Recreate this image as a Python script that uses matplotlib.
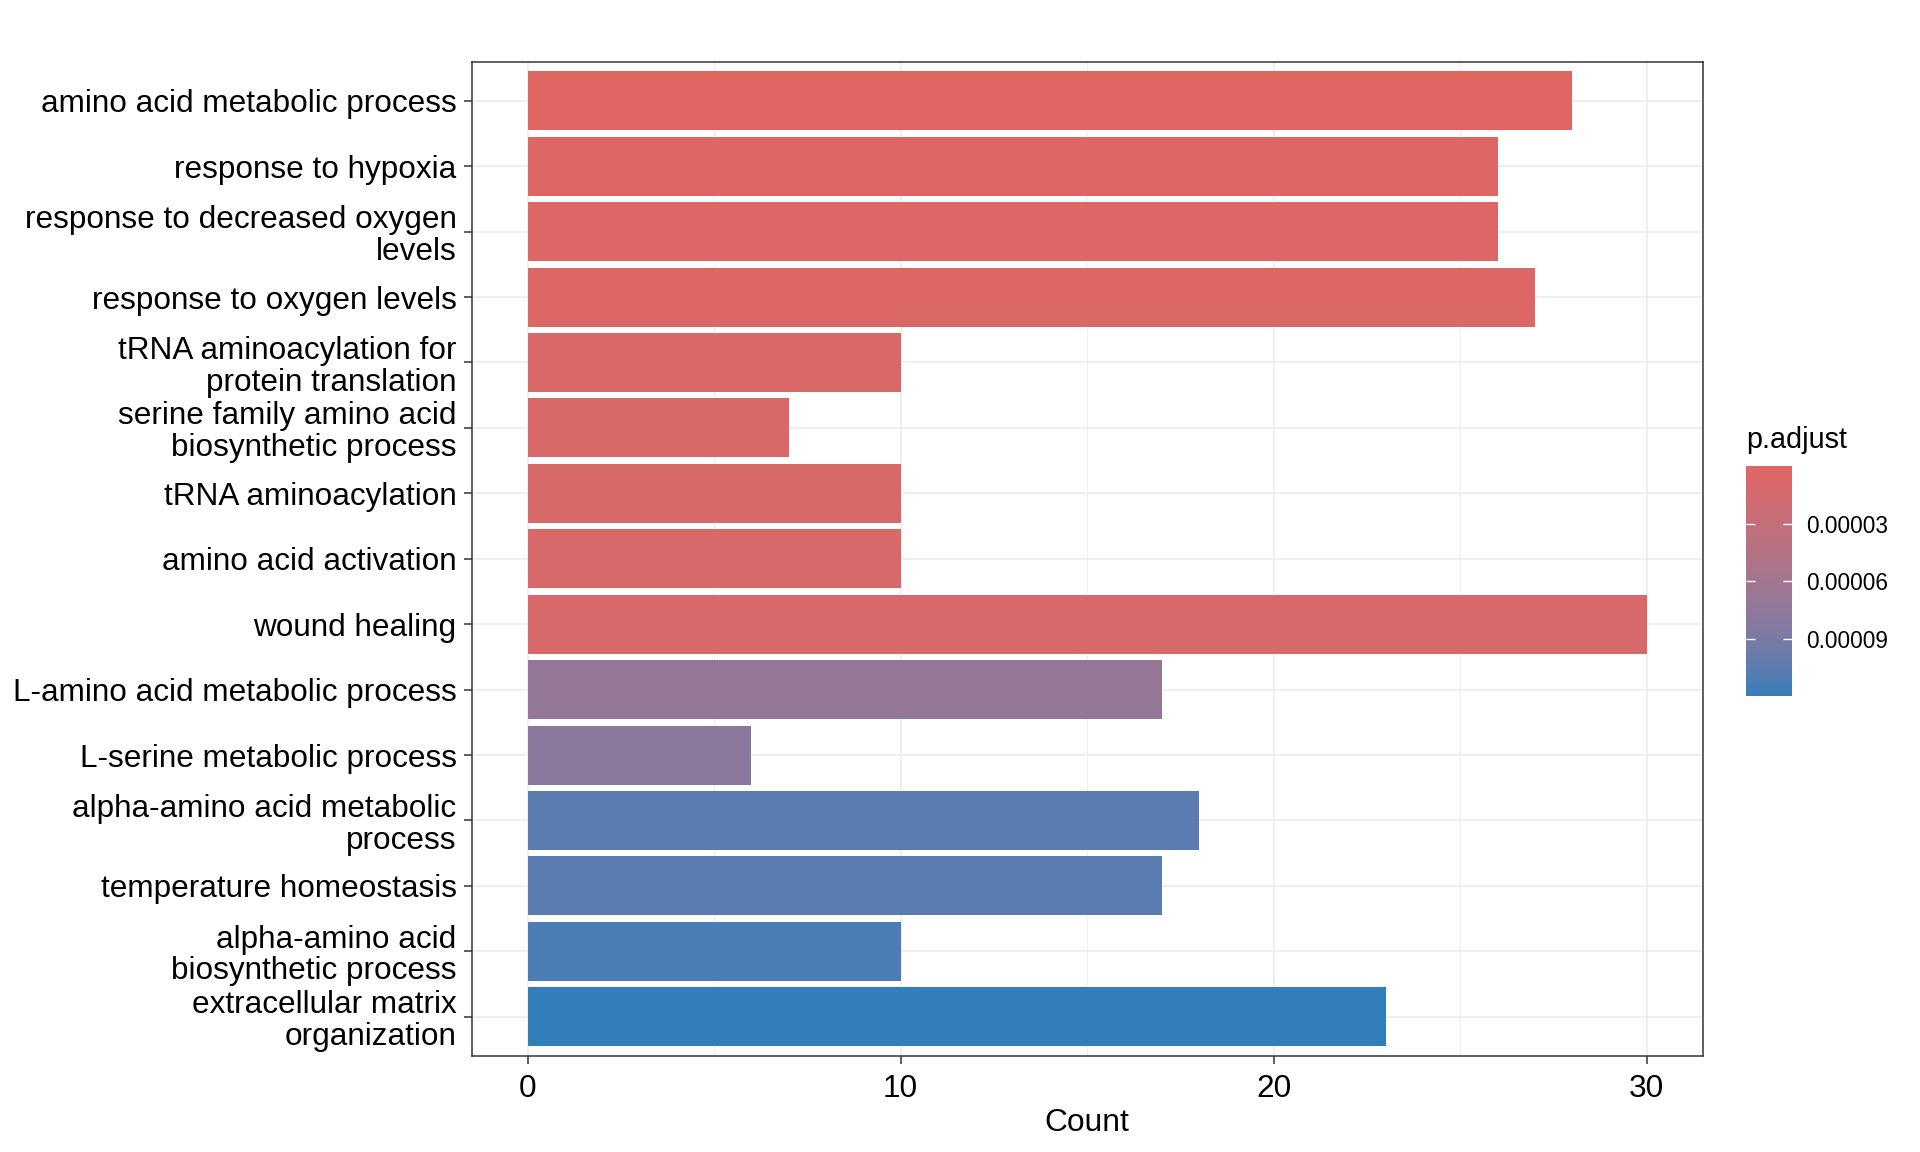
import numpy as np
import matplotlib
matplotlib.use("Agg")
import matplotlib.pyplot as plt
from matplotlib.colors import LinearSegmentedColormap, Normalize, to_rgb
from matplotlib.cm import ScalarMappable

plt.rcParams['font.family'] = ['Liberation Sans', 'DejaVu Sans']

# GO terms, top to bottom
terms = [
    "amino acid metabolic process",
    "response to hypoxia",
    "response to decreased oxygen\nlevels",
    "response to oxygen levels",
    "tRNA aminoacylation for\nprotein translation",
    "serine family amino acid\nbiosynthetic process",
    "tRNA aminoacylation",
    "amino acid activation",
    "wound healing",
    "L-amino acid metabolic process",
    "L-serine metabolic process",
    "alpha-amino acid metabolic\nprocess",
    "temperature homeostasis",
    "alpha-amino acid\nbiosynthetic process",
    "extracellular matrix\norganization",
]
counts = [28, 26, 26, 27, 10, 7, 10, 10, 30, 17, 6, 18, 17, 10, 23]
p_adjust = [1.0e-7, 3.5e-6, 4.0e-6, 5.0e-6, 7.0e-6, 8.0e-6, 8.5e-6, 9.0e-6, 1.0e-5,
            7.2e-5, 7.8e-5, 1.06e-4, 1.06e-4, 1.12e-4, 1.195e-4]
cbar_ticks = [3e-5, 6e-5, 9e-5]
x_ticks = [0, 10, 20, 30]

LOW, HIGH = "#e06663", "#327eba"


# ggplot interpolates the gradient in CIELAB, do the same here
def srgb_to_lab(rgb):
    c = np.array(rgb, dtype=float)
    c = np.where(c <= 0.04045, c / 12.92, ((c + 0.055) / 1.055) ** 2.4)
    m = np.array([[0.4124, 0.3576, 0.1805],
                  [0.2126, 0.7152, 0.0722],
                  [0.0193, 0.1192, 0.9505]])
    xyz = m @ c / np.array([0.95047, 1.0, 1.08883])
    f = np.where(xyz > 0.008856, np.cbrt(xyz), 7.787 * xyz + 16 / 116)
    return np.array([116 * f[1] - 16, 500 * (f[0] - f[1]), 200 * (f[1] - f[2])])


def lab_to_srgb(lab):
    fy = (lab[0] + 16) / 116
    fx = fy + lab[1] / 500
    fz = fy - lab[2] / 200
    f = np.array([fx, fy, fz])
    xyz = np.where(f ** 3 > 0.008856, f ** 3, (f - 16 / 116) / 7.787)
    xyz = xyz * np.array([0.95047, 1.0, 1.08883])
    m = np.array([[3.2406, -1.5372, -0.4986],
                  [-0.9689, 1.8758, 0.0415],
                  [0.0557, -0.2040, 1.0570]])
    c = m @ xyz
    c = np.where(c <= 0.0031308, 12.92 * c, 1.055 * np.clip(c, 0, None) ** (1 / 2.4) - 0.055)
    return np.clip(c, 0, 1)


lab_lo, lab_hi = srgb_to_lab(to_rgb(LOW)), srgb_to_lab(to_rgb(HIGH))
ramp = [lab_to_srgb(lab_lo + t * (lab_hi - lab_lo)) for t in np.linspace(0, 1, 64)]
cmap = LinearSegmentedColormap.from_list("padj", ramp)
norm = Normalize(vmin=min(p_adjust), vmax=max(p_adjust))

fig = plt.figure(figsize=(19.2, 11.52), dpi=100)
ax = fig.add_axes([0.2456, 0.0833, 0.6413, 0.8633])

ypos = np.arange(len(terms))[::-1] + 1
ax.barh(ypos, counts, height=0.9, color=cmap(norm(p_adjust)), zorder=3)

ax.set_xlim(-1.5, 31.5)
ax.set_ylim(0.4, len(terms) + 0.6)
ax.set_xticks(x_ticks)
ax.set_xticks([5, 15, 25], minor=True)
ax.set_yticks(ypos)
ax.set_yticklabels(terms, linespacing=1.07)

ax.grid(which="major", color="#ebebeb", linewidth=1.1, zorder=0)
ax.grid(which="minor", axis="x", color="#ebebeb", linewidth=0.55, zorder=0)
ax.set_axisbelow(True)

for s in ax.spines.values():
    s.set_color("#333333")
    s.set_linewidth(1.1)

ax.tick_params(axis="both", which="major", length=5.8, width=1.1, color="#333333",
               labelsize=22.7, labelcolor="black")
ax.tick_params(axis="x", pad=7.3)
ax.tick_params(axis="y", pad=5)
ax.tick_params(which="minor", length=0)
ax.set_xlabel("Count", fontsize=22.9, labelpad=3)

# colour bar legend
cax = fig.add_axes([0.9094, 0.3958, 0.02396, 0.1997])
sm = ScalarMappable(norm=norm, cmap=cmap)
cb = fig.colorbar(sm, cax=cax)
cb.outline.set_visible(False)
cax.invert_yaxis()
cb.set_ticks(cbar_ticks)
cb.set_ticklabels([f"{t:.5f}" for t in cbar_ticks])
cax.tick_params(direction="in", length=6.5, width=1.0, color="white",
                left=True, right=True, labelsize=16.3, pad=10)
fig.text(0.9094, 0.618, "p.adjust", fontsize=20.7, ha="left", va="center")

fig.savefig("out.png", dpi=100, facecolor="white")
